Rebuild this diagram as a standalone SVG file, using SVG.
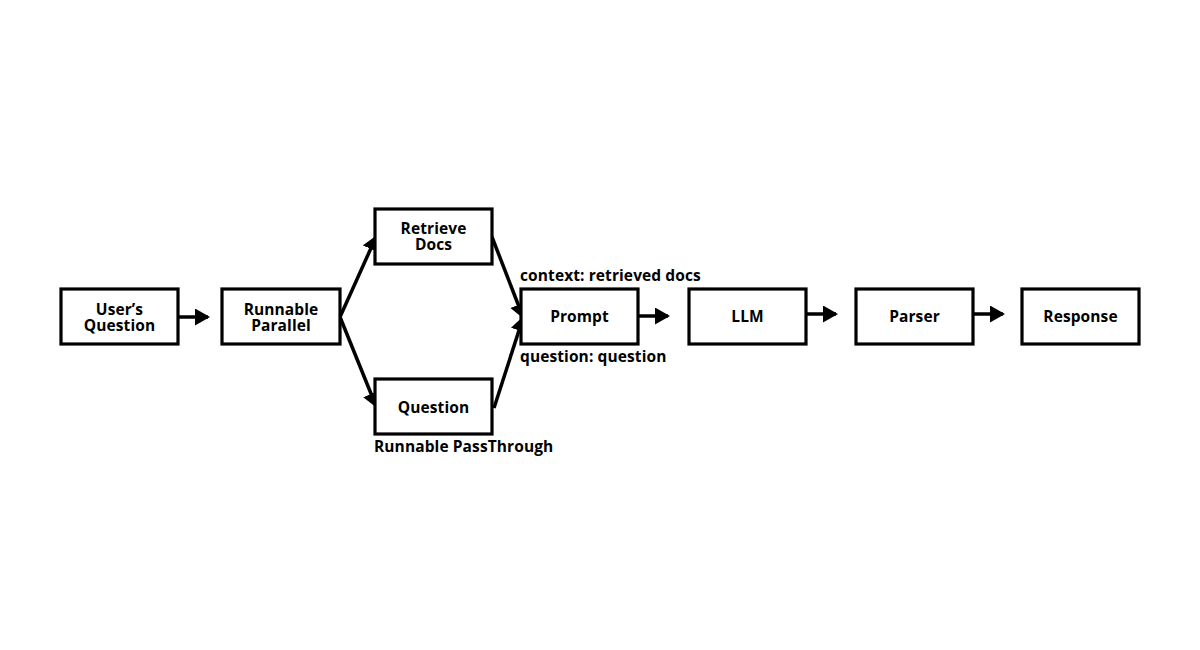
<svg xmlns="http://www.w3.org/2000/svg" width="1200" height="650" viewBox="0 0 1200 650">
<style>
.box{fill:#fff;stroke:#000;stroke-width:3.2}
.t{font-family:"Open Sans","Liberation Sans",sans-serif;font-weight:700;font-size:15.5px;letter-spacing:0.1px;fill:#000;text-anchor:middle}
.l{font-family:"Open Sans","Liberation Sans",sans-serif;font-weight:700;font-size:15.5px;letter-spacing:0.1px;fill:#000}
.c{fill:none;stroke:#000;stroke-width:3.5}
</style>
<defs>
<marker id="ah" markerUnits="userSpaceOnUse" markerWidth="15" markerHeight="17" refX="13" refY="8.5" orient="auto">
<path d="M0,0 L15,8.5 L0,17 Z" fill="#000"/>
</marker>
</defs>
<rect width="1200" height="650" fill="#fff"/>
<g id="connectors">
<line class="c" x1="179" y1="317" x2="208" y2="317" marker-end="url(#ah)"/>
<line class="c" x1="340" y1="317" x2="376" y2="237" marker-end="url(#ah)"/>
<line class="c" x1="340" y1="317" x2="376" y2="406" marker-end="url(#ah)"/>
<line class="c" x1="492" y1="237" x2="523" y2="317" marker-end="url(#ah)"/>
<line class="c" x1="494" y1="408" x2="523" y2="318" marker-end="url(#ah)"/>
<line class="c" x1="639" y1="316" x2="668" y2="316" marker-end="url(#ah)"/>
<line class="c" x1="807" y1="314" x2="836" y2="314" marker-end="url(#ah)"/>
<line class="c" x1="974" y1="314" x2="1003" y2="314" marker-end="url(#ah)"/>
</g>
<g id="users-question">
<rect class="box" x="61" y="289" width="117" height="55"/>
<text class="t" x="119.5" y="314.5">User’s<tspan x="119.5" dy="16">Question</tspan></text>
</g>
<g id="runnable-parallel">
<rect class="box" x="222" y="289" width="118" height="55"/>
<text class="t" x="281" y="314.5">Runnable<tspan x="281" dy="16">Parallel</tspan></text>
</g>
<g id="retrieve-docs">
<rect class="box" x="375" y="209" width="117" height="55"/>
<text class="t" x="433.5" y="233.5">Retrieve<tspan x="433.5" dy="16">Docs</tspan></text>
</g>
<g id="question">
<rect class="box" x="375" y="379" width="117" height="55"/>
<text class="t" x="433.5" y="413">Question</text>
<text class="l" x="374" y="452">Runnable PassThrough</text>
</g>
<g id="prompt">
<rect class="box" x="521" y="289" width="117" height="55"/>
<text class="t" x="579.5" y="322">Prompt</text>
<text class="l" x="520" y="281">context: retrieved docs</text>
<text class="l" x="520" y="362">question: question</text>
</g>
<g id="llm">
<rect class="box" x="689" y="289" width="117" height="55"/>
<text class="t" x="747.5" y="322">LLM</text>
</g>
<g id="parser">
<rect class="box" x="856" y="289" width="117" height="55"/>
<text class="t" x="914.5" y="322">Parser</text>
</g>
<g id="response">
<rect class="box" x="1022" y="289" width="117" height="55"/>
<text class="t" x="1080.5" y="322">Response</text>
</g>
</svg>
